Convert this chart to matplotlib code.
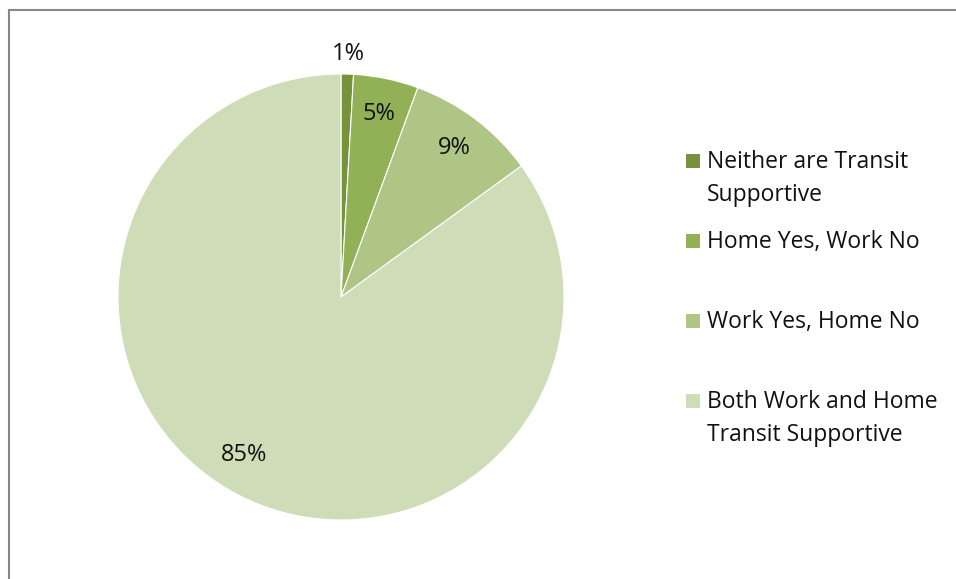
import matplotlib
matplotlib.use("Agg")
import matplotlib.pyplot as plt
from matplotlib.patches import Rectangle
import numpy as np

plt.rcParams["font.family"] = ["Open Sans", "DejaVu Sans"]

# Dati
labels = ["Neither are Transit\nSupportive", "Home Yes, Work No",
          "Work Yes, Home No", "Both Work and Home\nTransit Supportive"]
shares = [0.9, 4.7, 9.4, 85.0]
colors = ["#77923C", "#92B157", "#AEC585", "#CFDCB8"]

W, H = 956, 579
fig = plt.figure(figsize=(W / 100, H / 100), dpi=100)
fig.patch.set_facecolor("white")

# apmale (nogriezta labajā un apakšējā malā)
fig.patches.append(Rectangle((9 / W, -0.1), 1.2, (H - 10) / H + 0.1,
                             transform=fig.transFigure, fill=False,
                             edgecolor="#878787", linewidth=1.5))

# pīrāgs: centrs (341, 297), rādiuss 223 px
cx, cy, r = 341, 297, 223
ax = fig.add_axes([(cx - r) / W, (H - cy - r) / H, 2 * r / W, 2 * r / H])
wedges, texts, autotexts = ax.pie(
    shares, colors=colors, startangle=90, counterclock=False,
    autopct="%.0f%%", pctdistance=0.84,
    wedgeprops=dict(edgecolor="white", linewidth=0.8),
    textprops=dict(fontsize=17, color="#111111"))
ax.set_xlim(-1, 1)
ax.set_ylim(-1, 1)
ax.set_aspect("auto")

# mazo daļu ārpusē, lielās iezīmi nedaudz pagriež
w = wedges[0]
ang = np.deg2rad((w.theta1 + w.theta2) / 2)
autotexts[0].set_position((1.09 * np.cos(ang), 1.09 * np.sin(ang)))
w = wedges[3]
ang = np.deg2rad((w.theta1 + w.theta2) / 2 - 4.5)
autotexts[3].set_position((0.83 * np.cos(ang), 0.83 * np.sin(ang)))

# leģenda ar rokām, pirmās rindas bāzes līnija ik pa 80 px
for i, (lab, col) in enumerate(zip(labels, colors)):
    base = 168 + 80 * i
    fig.patches.append(Rectangle((686 / W, (H - base) / H), 14 / W, 14 / H,
                                 transform=fig.transFigure, facecolor=col,
                                 edgecolor="none"))
    for j, line in enumerate(lab.split("\n")):
        fig.text(707 / W, (H - base - 33 * j) / H, line, fontsize=16.5,
                 color="#111111", va="baseline", ha="left")

fig.savefig("out.png", dpi=100)
